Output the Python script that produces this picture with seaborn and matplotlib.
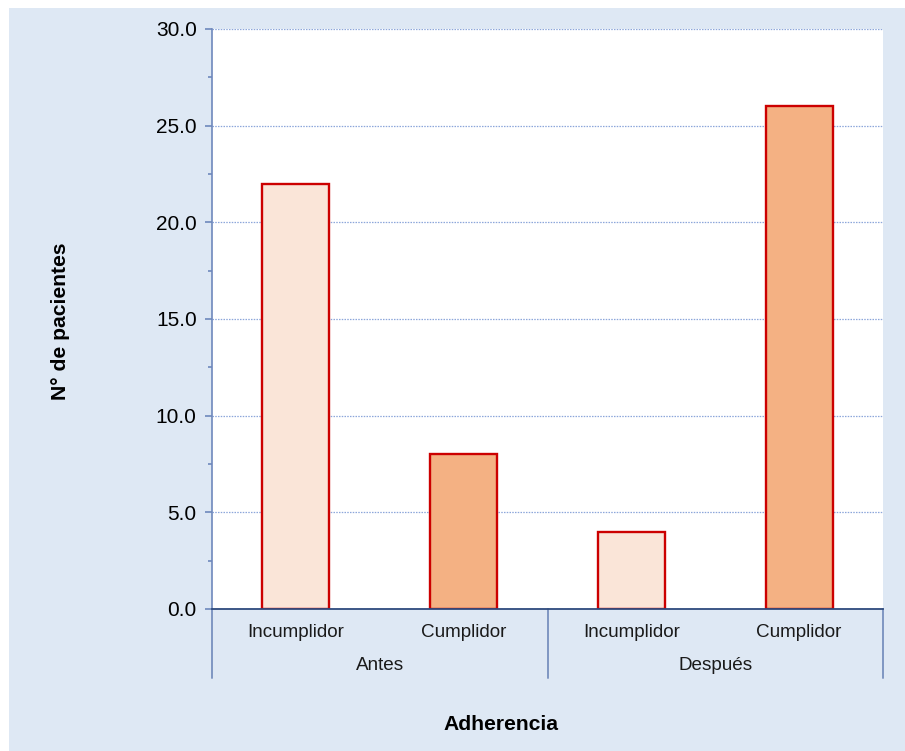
import matplotlib
matplotlib.use("Agg")
import matplotlib.pyplot as plt
import matplotlib.patches as mpatches
import matplotlib.transforms as mtransforms
from matplotlib.ticker import MultipleLocator, FormatStrFormatter
import seaborn as sns
import pandas as pd

# Data
grupos = ["Antes", "Antes", "Después", "Después"]
adherencia = ["Incumplidor", "Cumplidor", "Incumplidor", "Cumplidor"]
pacientes = [22, 8, 4, 26]
etiquetas_grupo = ["Antes", "Después"]

df = pd.DataFrame({
    "grupo": grupos,
    "adherencia": adherencia,
    "pacientes": pacientes,
})
df["barra"] = df["grupo"] + " - " + df["adherencia"]

sns.set_theme(style="white")
plt.rcParams["font.family"] = ["Liberation Sans", "DejaVu Sans"]

BG = "#DEE8F4"
fig = plt.figure(figsize=(9.05, 7.51), dpi=100)
fig.patch.set_facecolor("white")
fig.patches.append(mpatches.Rectangle((9 / 905, 0), 1 - 9 / 905, 1 - 8 / 751,
                                      transform=fig.transFigure, facecolor=BG,
                                      edgecolor="none", zorder=-10))

ax = fig.add_axes([212 / 905, 1 - 609 / 751, (883 - 212) / 905, (609 - 29) / 751])
ax.set_facecolor("white")

palette = {"Incumplidor": "#FAE5D8", "Cumplidor": "#F4B183"}
sns.barplot(data=df, x="barra", y="pacientes", hue="adherencia",
            palette=palette, saturation=1, dodge=False, width=0.4, ax=ax,
            edgecolor="#CC0000", linewidth=1.7, legend=False, zorder=3)

ax.set_xlim(-0.5, len(df) - 0.5)
ax.set_ylim(0, 30)
ax.yaxis.set_major_locator(MultipleLocator(5))
ax.yaxis.set_minor_locator(MultipleLocator(2.5))
ax.yaxis.set_major_formatter(FormatStrFormatter("%.1f"))
ax.grid(axis="y", which="major", color="#8CA6DA", linestyle=(0, (1.2, 1)),
        linewidth=0.9, zorder=0)
ax.grid(axis="x", visible=False)
ax.set_axisbelow(True)

for s in ["top", "right"]:
    ax.spines[s].set_visible(False)
ax.spines["left"].set_color("#6E88BC")
ax.spines["left"].set_linewidth(1.2)
ax.spines["bottom"].set_color("#2E4A7D")
ax.spines["bottom"].set_linewidth(1.3)
ax.spines["bottom"].set_zorder(5)

ax.tick_params(axis="y", which="major", direction="out", length=5, width=1.2,
               color="#6E88BC", labelsize=15, labelcolor="black", pad=6, left=True)
ax.tick_params(axis="y", which="minor", direction="out", length=3, width=1.2,
               color="#6E88BC", left=True)
ax.tick_params(axis="x", length=0, labelsize=13.6, labelcolor="#1a1a1a", pad=11)
ax.set_xticks(range(len(df)))
ax.set_xticklabels(adherencia)

# Group labels and separators under the axis
trans = mtransforms.blended_transform_factory(ax.transData, ax.transAxes)
sep_depth = -69 / 580
for xpos in [-0.5, 1.5, 3.5]:
    ax.plot([xpos, xpos], [0, sep_depth], transform=trans, color="#7F96C2",
            linewidth=1.4, clip_on=False, zorder=4)
for i, g in enumerate(etiquetas_grupo):
    ax.text(2 * i + 0.5, -56 / 580, g, transform=trans, ha="center", va="center",
            fontsize=13.6, color="#1a1a1a")

ax.set_xlabel("")
ax.set_ylabel("")
fig.text(501 / 905, 1 - 724 / 751, "Adherencia", ha="center", va="center",
         fontsize=15.2, fontweight="bold", color="black")
fig.text(60 / 905, 1 - 321 / 751, "N° de pacientes", ha="center", va="center",
         rotation=90, fontsize=15.2, fontweight="bold", color="black")

fig.savefig("out.png", dpi=100, facecolor=fig.get_facecolor())
